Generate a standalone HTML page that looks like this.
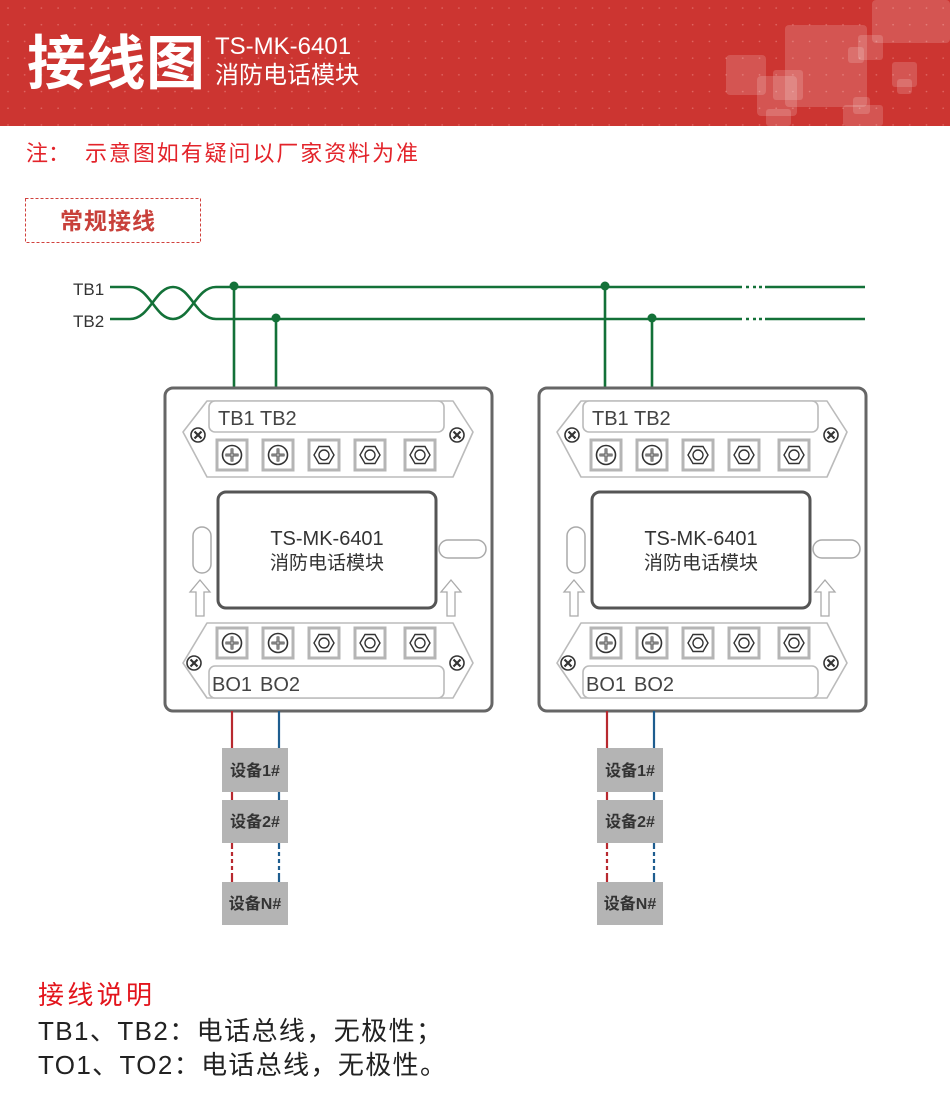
<!DOCTYPE html>
<html><head><meta charset="utf-8"><style>
html,body{margin:0;padding:0;background:#fff;}
body{width:950px;height:1114px;overflow:hidden;position:relative;font-family:"Liberation Sans","Noto Sans CJK SC",sans-serif;}
</style></head><body>
<svg width="950" height="1114" viewBox="0 0 950 1114" xmlns="http://www.w3.org/2000/svg" style="position:absolute;left:0;top:0">
<defs>
<pattern id="dots" width="16.7" height="16.7" patternUnits="userSpaceOnUse"><circle cx="8" cy="8" r="0.8" fill="#e06a66"/></pattern>
<g id="phil"><rect x="-15" y="-15" width="30" height="30" fill="#fff" stroke="#b5b5b5" stroke-width="3"/><circle r="9.5" fill="#fff" stroke="#333" stroke-width="1.6"/><path d="M-6.5 0H6.5M0 -6.5V6.5" stroke="#333" stroke-width="2.8"/><path d="M-6 0H6M0 -6V6" stroke="#fff" stroke-width="0.8"/></g>
<g id="nut"><rect x="-15" y="-15" width="30" height="30" fill="#fff" stroke="#b5b5b5" stroke-width="3"/><polygon points="-10,0 -5,-8.5 5,-8.5 10,0 5,8.5 -5,8.5" fill="#fff" stroke="#333" stroke-width="1.4"/><circle r="5" fill="#fff" stroke="#333" stroke-width="1.4"/></g>
<g id="scr"><circle r="7" fill="#fff" stroke="#333" stroke-width="1.6"/><path d="M-3.5 -3.5L3.5 3.5M3.5 -3.5L-3.5 3.5" stroke="#333" stroke-width="2.2"/></g>
<g id="mod">
<rect x="165" y="388" width="327" height="323" rx="8" fill="#fff" stroke="#666" stroke-width="3"/>
<polygon points="183,432 207,401 453,401 473,432 453,477 207,477" fill="#fff" stroke="#bbb" stroke-width="1.6" stroke-linejoin="round"/>
<rect x="209" y="401" width="235" height="31" rx="6" fill="#fff" stroke="#bbb" stroke-width="1.6"/>
<use href="#scr" x="198" y="435"/><use href="#scr" x="457" y="435"/>
<use href="#phil" x="232" y="455"/><use href="#phil" x="278" y="455"/><use href="#nut" x="324" y="455"/><use href="#nut" x="370" y="455"/><use href="#nut" x="420" y="455"/>
<rect x="218" y="492" width="218" height="116" rx="8" fill="#fff" stroke="#555" stroke-width="3"/>
<rect x="193" y="527" width="18" height="46" rx="9" fill="#fff" stroke="#aaa" stroke-width="1.5"/>
<rect x="439" y="540" width="47" height="18" rx="9" fill="#fff" stroke="#aaa" stroke-width="1.5"/>
<polygon points="200,580 210,592 204,592 204,616 196,616 196,592 190,592" fill="#fff" stroke="#aaa" stroke-width="1.3"/>
<polygon points="451,580 461,592 455,592 455,616 447,616 447,592 441,592" fill="#fff" stroke="#aaa" stroke-width="1.3"/>
<polygon points="183,663 207,623 453,623 473,663 453,698 207,698" fill="#fff" stroke="#bbb" stroke-width="1.6" stroke-linejoin="round"/>
<rect x="209" y="666" width="235" height="32" rx="6" fill="#fff" stroke="#bbb" stroke-width="1.6"/>
<use href="#scr" x="194" y="663"/><use href="#scr" x="457" y="663"/>
<use href="#phil" x="232" y="643"/><use href="#phil" x="278" y="643"/><use href="#nut" x="324" y="643"/><use href="#nut" x="370" y="643"/><use href="#nut" x="420" y="643"/>
</g>
<g id="dev">
<path d="M232 711V845M232 875V882" stroke="#b8292f" stroke-width="2.2"/>
<path d="M232 845V875" stroke="#b8292f" stroke-width="2.2" stroke-dasharray="4 3"/>
<path d="M279 711V845M279 875V882" stroke="#1e5d8f" stroke-width="2.2"/>
<path d="M279 845V875" stroke="#1e5d8f" stroke-width="2.2" stroke-dasharray="4 3"/>
<rect x="222" y="748" width="66" height="44" fill="#b4b4b4"/>
<rect x="222" y="800" width="66" height="43" fill="#b4b4b4"/>
<rect x="222" y="882" width="66" height="43" fill="#b4b4b4"/>
</g>
</defs>
<rect x="0" y="0" width="950" height="126" fill="#cc3531"/>
<rect x="0" y="0" width="950" height="126" fill="url(#dots)"/>
<g fill="#fff" fill-opacity="0.16">
<rect x="872" y="0" width="78" height="43" rx="4"/>
<rect x="785" y="25" width="82" height="82" rx="4"/>
<rect x="858" y="35" width="25" height="25" rx="3"/>
<rect x="848" y="47" width="16" height="16" rx="3"/>
<rect x="726" y="55" width="40" height="40" rx="4"/>
<rect x="757" y="76" width="40" height="40" rx="4"/>
<rect x="773" y="70" width="30" height="30" rx="3"/>
<rect x="766" y="109" width="25" height="17" rx="3"/>
<rect x="843" y="105" width="40" height="21" rx="3"/>
<rect x="853" y="97" width="17" height="17" rx="3"/>
<rect x="892" y="62" width="25" height="25" rx="3"/>
<rect x="897" y="79" width="15" height="15" rx="3"/>
</g>
<text x="27" y="84" font-size="59" font-weight="bold" fill="#fff" font-family="Noto Sans CJK SC, sans-serif" textLength="178">接线图</text>
<text x="215" y="54" font-size="24" fill="#fff" font-family="Liberation Sans, sans-serif">TS-MK-6401</text>
<text x="215" y="83" font-size="24" fill="#fff" font-family="Noto Sans CJK SC, sans-serif">消防电话模块</text>
<text x="26" y="161" font-size="22" fill="#e3232a" font-family="Noto Sans CJK SC, sans-serif">注：</text>
<text x="85" y="161" font-size="22" fill="#e3232a" font-family="Noto Sans CJK SC, sans-serif" textLength="333">示意图如有疑问以厂家资料为准</text>
<rect x="25.5" y="198.5" width="175" height="44" fill="none" stroke="#d0413d" stroke-width="1" stroke-dasharray="3 2"/>
<text x="60" y="229" font-size="23" font-weight="bold" fill="#c8403a" font-family="Noto Sans CJK SC, sans-serif" textLength="95">常规接线</text>
<g stroke="#137138" stroke-width="2.6" fill="none">
<path d="M110 287H130C150 287 155 319 173 319S196 287 216 287H742M765 287H865"/>
<path d="M110 319H130C150 319 155 287 173 287S196 319 216 319H742M765 319H865"/>
<path d="M746 287h3M753 287h3M759 287h3M746 319h3M753 319h3M759 319h3"/>
<path d="M234 286V388M276 318V388M605 286V388M652 318V388"/>
</g>
<g fill="#137138"><circle cx="234" cy="286" r="4.5"/><circle cx="276" cy="318" r="4.5"/><circle cx="605" cy="286" r="4.5"/><circle cx="652" cy="318" r="4.5"/></g>
<text x="73" y="295" font-size="17" fill="#333">TB1</text>
<text x="73" y="327" font-size="17" fill="#333">TB2</text>
<use href="#mod"/>
<use href="#mod" x="374"/>
<use href="#dev"/>
<use href="#dev" x="375"/>
<g font-size="20" fill="#444" font-family="Liberation Sans, sans-serif">
<text x="218" y="425">TB1</text><text x="260" y="425">TB2</text>
<text x="592" y="425">TB1</text><text x="634" y="425">TB2</text>
<text x="212" y="691">BO1</text><text x="260" y="691">BO2</text>
<text x="586" y="691">BO1</text><text x="634" y="691">BO2</text>
</g>
<g fill="#333" text-anchor="middle">
<text x="327" y="545" font-size="20" font-family="Liberation Sans, sans-serif">TS-MK-6401</text>
<text x="327" y="569" font-size="19" font-family="Noto Sans CJK SC, sans-serif">消防电话模块</text>
<text x="701" y="545" font-size="20" font-family="Liberation Sans, sans-serif">TS-MK-6401</text>
<text x="701" y="569" font-size="19" font-family="Noto Sans CJK SC, sans-serif">消防电话模块</text>
</g>
<g fill="#333" font-size="16" font-weight="bold" text-anchor="middle" font-family="Liberation Sans, Noto Sans CJK SC, sans-serif">
<text x="255" y="776">设备1#</text><text x="255" y="827">设备2#</text><text x="255" y="909">设备N#</text>
<text x="630" y="776">设备1#</text><text x="630" y="827">设备2#</text><text x="630" y="909">设备N#</text>
</g>
<text x="38" y="1004" font-size="26" fill="#e3141c" font-family="Noto Sans CJK SC, sans-serif" textLength="114">接线说明</text>
<text x="38" y="1040" font-size="26" fill="#222" font-family="Liberation Sans, Noto Sans CJK SC, sans-serif" textLength="404">TB1、TB2：电话总线，无极性；</text>
<text x="38" y="1074" font-size="26" fill="#222" font-family="Liberation Sans, Noto Sans CJK SC, sans-serif" textLength="408">TO1、TO2：电话总线，无极性。</text>
</svg>
</body></html>
